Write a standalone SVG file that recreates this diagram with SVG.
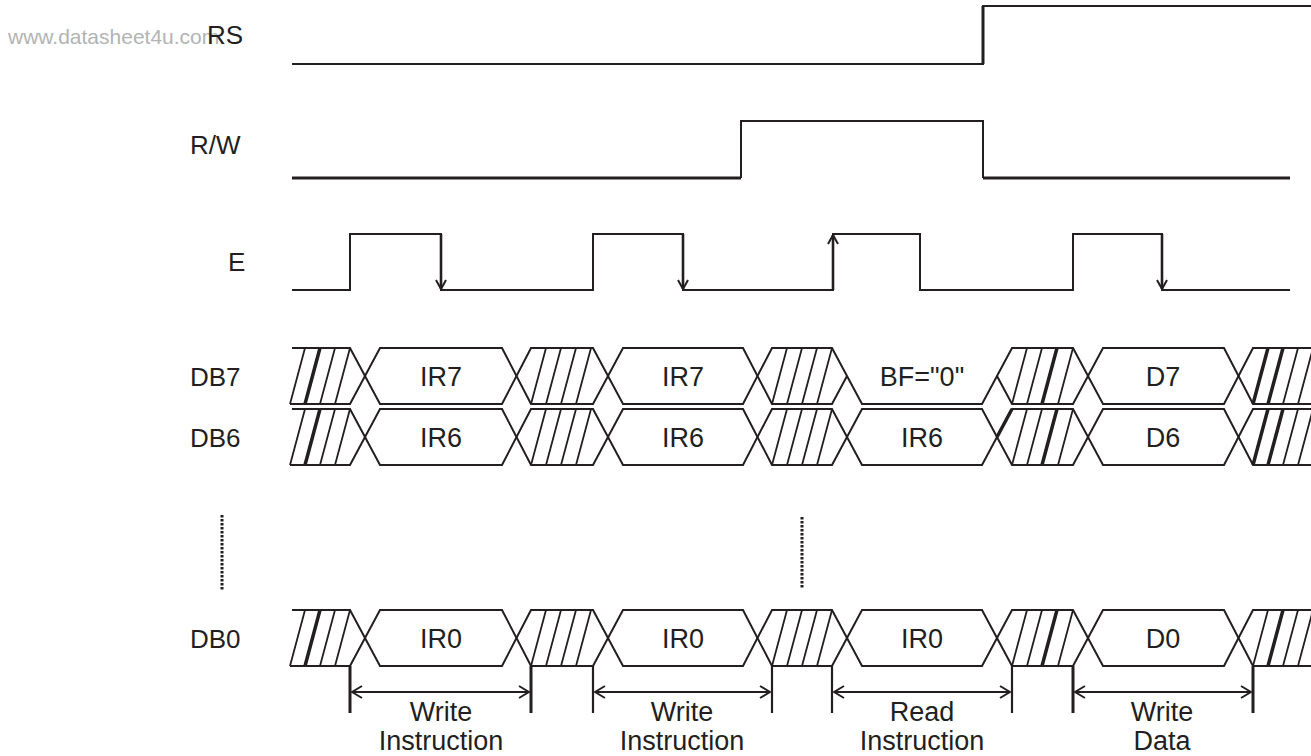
<svg xmlns="http://www.w3.org/2000/svg" width="1311" height="756" viewBox="0 0 1311 756">
<style>
.sig{fill:none;stroke:#231f20;stroke-width:2;stroke-linejoin:miter}
.thick{stroke-width:3}
.hatch{fill:none;stroke:#231f20;stroke-width:1.8}
.bold{fill:none;stroke:#231f20;stroke-width:3.5}
.lbl{font-family:"Liberation Sans",Arial,sans-serif;font-size:26px;fill:#231f20}
.big{font-size:27px}
.mid{text-anchor:middle}
.wm{font-family:"Liberation Sans",Arial,sans-serif;font-size:21px;fill:#b3b3b3}
.dot{fill:none;stroke:#231f20;stroke-width:3;stroke-dasharray:2.5 1.5}
.mark{fill:none;stroke:#231f20;stroke-width:3}
.dim{fill:none;stroke:#231f20;stroke-width:2.2;marker-start:url(#dimArrow);marker-end:url(#dimArrow)}
.edge{fill:none;stroke:#231f20;stroke-width:2.6;marker-end:url(#edgeArrow)}
</style>
<defs>
<marker id="dimArrow" viewBox="0 0 12 14" refX="11" refY="7" markerWidth="12" markerHeight="14" markerUnits="userSpaceOnUse" orient="auto-start-reverse">
<path d="M1,1 L11,7 L1,13" fill="none" stroke="#231f20" stroke-width="2"/>
</marker>
<marker id="edgeArrow" viewBox="0 0 12 12" refX="10" refY="6" markerWidth="12" markerHeight="12" markerUnits="userSpaceOnUse" orient="auto">
<path d="M1,1 L10,6 L1,11" fill="none" stroke="#231f20" stroke-width="2"/>
</marker>
</defs>
<rect width="1311" height="756" fill="#ffffff"/>
<text class="wm" x="8" y="44">www.datasheet4u.com</text>

<g id="RS">
<text class="lbl" x="207" y="44">RS</text>
<path class="sig" d="M292,64 H983 V6 H1311"/>
<path class="sig thick" d="M983,64 V6"/>
</g>

<g id="RW">
<text class="lbl" x="190" y="154">R/W</text>
<path class="sig thick" d="M292,178 H741"/>
<path class="sig" d="M741,178 V121 H983 V178"/>
<path class="sig thick" d="M983,178 H1290"/>
</g>

<g id="E">
<text class="lbl" x="228" y="271">E</text>
<path class="sig" d="M292,290 H350 V234 H441 V290 H593 V234 H683 V290 H833 V234 H920 V290 H1073 V234 H1162 V290 H1290"/>
<path class="edge" d="M441,234 V289"/>
<path class="edge" d="M683,234 V289"/>
<path class="edge" d="M833,290 V235"/>
<path class="edge" d="M1162,234 V289"/>
</g>

<g id="DB7">
<text class="lbl" x="190" y="386">DB7</text>
<path class="sig" d="M292,348 H350 L380,404 H502 L531,348 H593 L623,404 H743 L772,348 H832 L862,404 H982 L1012,348 H1073 L1103,404 H1224 L1253,348 H1311"/>
<path class="sig" d="M290,404 H350 L380,348 H502 L531,404 H593 L623,348 H743 L772,404 H832 L847,376 M997,376 L1012,404 H1073 L1103,348 H1224 L1253,404 H1311"/>
<path class="hatch" d="M290,404l15,-56 M320,404l15,-56 M335,404l15,-56 M531,404l15,-56 M546,404l15,-56 M561,404l15,-56 M576,404l15,-56 M772,404l15,-56 M787,404l15,-56 M802,404l15,-56 M817,404l15,-56 M1012,404l15,-56 M1027,404l15,-56 M1058,404l15,-56 M1283,404l15,-56 M1298,404l15,-56"/>
<path class="bold" d="M305,404l15,-56 M1042,404l15,-56 M1253,404l15,-56 M1268,404l15,-56"/>
<text class="lbl big mid" x="441" y="386">IR7</text>
<text class="lbl big mid" x="683" y="386">IR7</text>
<text class="lbl big mid" x="922" y="386">BF="0"</text>
<text class="lbl big mid" x="1163" y="386">D7</text>
</g>

<g id="DB6">
<text class="lbl" x="190" y="447">DB6</text>
<path class="sig" d="M292,409 H350 L380,465 H502 L531,409 H593 L623,465 H743 L772,409 H832 L862,465 H982 L1012,409 H1073 L1103,465 H1224 L1253,409 H1311"/>
<path class="sig" d="M290,465 H350 L380,409 H502 L531,465 H593 L623,409 H743 L772,465 H832 L862,409 H982 L1012,465 H1073 L1103,409 H1224 L1253,465 H1311"/>
<path class="bold" d="M997,437 L1012,409"/>
<path class="hatch" d="M290,465l15,-56 M320,465l15,-56 M335,465l15,-56 M531,465l15,-56 M546,465l15,-56 M561,465l15,-56 M576,465l15,-56 M772,465l15,-56 M787,465l15,-56 M802,465l15,-56 M817,465l15,-56 M1012,465l15,-56 M1027,465l15,-56 M1058,465l15,-56 M1283,465l15,-56 M1298,465l15,-56"/>
<path class="bold" d="M305,465l15,-56 M1042,465l15,-56 M1253,465l15,-56 M1268,465l15,-56"/>
<text class="lbl big mid" x="441" y="447">IR6</text>
<text class="lbl big mid" x="683" y="447">IR6</text>
<text class="lbl big mid" x="922" y="447">IR6</text>
<text class="lbl big mid" x="1163" y="447">D6</text>
</g>

<g id="ellipsis">
<path class="dot" d="M222,515 V590"/>
<path class="dot" d="M802,517 V588"/>
</g>

<g id="DB0">
<text class="lbl" x="190" y="648">DB0</text>
<path class="sig" d="M292,610 H350 L380,666 H502 L531,610 H593 L623,666 H743 L772,610 H832 L862,666 H982 L1012,610 H1073 L1103,666 H1224 L1253,610 H1311"/>
<path class="sig" d="M290,666 H350 L380,610 H502 L531,666 H593 L623,610 H743 L772,666 H832 L862,610 H982 L1012,666 H1073 L1103,610 H1224 L1253,666 H1311"/>
<path class="hatch" d="M290,666l15,-56 M320,666l15,-56 M335,666l15,-56 M531,666l15,-56 M546,666l15,-56 M561,666l15,-56 M576,666l15,-56 M772,666l15,-56 M787,666l15,-56 M802,666l15,-56 M817,666l15,-56 M1012,666l15,-56 M1027,666l15,-56 M1058,666l15,-56 M1253,666l15,-56 M1283,666l15,-56 M1298,666l15,-56"/>
<path class="bold" d="M305,666l15,-56 M1042,666l15,-56 M1268,666l15,-56"/>
<text class="lbl big mid" x="441" y="648">IR0</text>
<text class="lbl big mid" x="683" y="648">IR0</text>
<text class="lbl big mid" x="922" y="648">IR0</text>
<text class="lbl big mid" x="1163" y="648">D0</text>
</g>

<g id="connectors">
<path class="mark" d="M350,666 V713 M531,666 V713 M1073,666 V713 M1253,666 V713"/>
<path class="mark" style="stroke-width:2.2" d="M593,666 V713 M772,666 V713 M832,666 V713 M1012,666 V713"/>
<path class="dim" d="M352,692 H529"/>
<path class="dim" d="M595,692 H770"/>
<path class="dim" d="M834,692 H1010"/>
<path class="dim" d="M1075,692 H1251"/>
</g>

<g id="cycle-labels">
<text class="lbl big mid" x="441" y="721">Write</text>
<text class="lbl big mid" x="441" y="750">Instruction</text>
<text class="lbl big mid" x="682" y="721">Write</text>
<text class="lbl big mid" x="682" y="750">Instruction</text>
<text class="lbl big mid" x="922" y="721">Read</text>
<text class="lbl big mid" x="922" y="750">Instruction</text>
<text class="lbl big mid" x="1162" y="721">Write</text>
<text class="lbl big mid" x="1162" y="750">Data</text>
</g>
</svg>
